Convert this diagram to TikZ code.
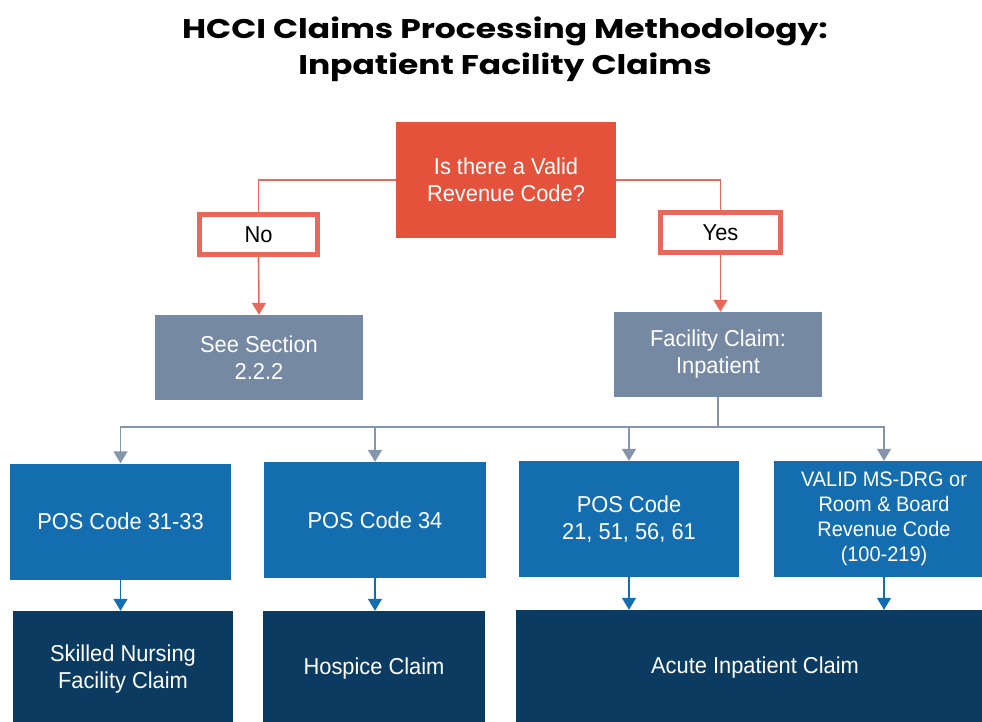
\documentclass[tikz,border=0pt]{standalone}
\usepackage{fontspec}
\setmainfont{Liberation Sans}[FakeStretch=0.95]
\newfontfamily\titlefont{Poppins}[FakeStretch=1.22]
\usetikzlibrary{arrows.meta}
\definecolor{qred}{HTML}{E4523B}
\definecolor{lred}{HTML}{E8695C}
\definecolor{qgray}{HTML}{7689A2}
\definecolor{lgray}{HTML}{8595AB}
\definecolor{qblue}{HTML}{146DAE}
\definecolor{qdark}{HTML}{0B3B60}
\tikzset{
  box/.style={rectangle, inner sep=2pt, align=center, font=\fontsize{23}{27}\selectfont, text=white},
  qbox/.style={box, fill=qred, minimum width=220pt, minimum height=116pt},
  ansbox/.style={box, fill=white, draw=lred, line width=5pt, text=black, minimum width=118pt, minimum height=40pt},
  graybox/.style={box, fill=qgray, minimum width=208pt, minimum height=85pt},
  bluebox/.style={box, fill=qblue, minimum height=116pt},
  darkbox/.style={box, fill=qdark, minimum height=116pt},
  tip/.style={-{Triangle[width=14pt,length=12pt]}},
  redline/.style={draw=lred, line width=1.6pt},
  redarrow/.style={redline, tip},
  grayline/.style={draw=lgray, line width=1.6pt},
  grayarrow/.style={grayline, tip},
  bluearrow/.style={draw=qblue, line width=1.6pt, tip},
}
\begin{document}
\begin{tikzpicture}[x=1pt,y=-1pt]
\useasboundingbox (0,0) rectangle (982,721);
\clip (0,0) rectangle (982,721);
\fill[white] (0,0) rectangle (982,721);

\node[font=\titlefont\bfseries\fontsize{27}{36}\selectfont, align=center] (title) at (505,49)
  {HCCI Claims Processing Methodology:\\Inpatient Facility Claims};

\node[qbox] (q) at (506,180) {Is there a Valid\\Revenue Code?};
\node[ansbox] (no) at (258.5,234.5) {No};
\node[ansbox, minimum width=120pt] (yes) at (720.5,232.5) {Yes};
\node[graybox] (see) at (259,357.5) {See Section\\2.2.2};
\node[graybox] (fac) at (718,354.5) {Facility Claim:\\Inpatient};

\node[bluebox, minimum width=221pt] (b1) at (120.5,521.5) {POS Code 31-33};
\node[bluebox, minimum width=222pt] (b2) at (375,520) {POS Code 34};
\node[bluebox, minimum width=220pt] (b3) at (629,519) {POS Code\\21, 51, 56, 61};
\node[bluebox, minimum width=220pt, font=\fontsize{21}{25}\selectfont] (b4) at (884,519) {VALID MS-DRG or\\Room \& Board\\Revenue Code\\(100-219)};

\node[darkbox, minimum width=220pt] (d1) at (123,669) {Skilled Nursing\\Facility Claim};
\node[darkbox, minimum width=222pt] (d2) at (374,669) {Hospice Claim};
\node[darkbox, minimum width=478pt] (d3) at (755,668) {Acute Inpatient Claim};

% question to answers
\draw[redline] (q.west) -| (no.north);
\draw[redline] (q.east) -| (yes.north);
\draw[redarrow] (no.south) -- (see.north);
\draw[redarrow] (yes.south) -- (yes.south |- fac.north);

% facility claim bus
\coordinate (bus) at (718,427);
\draw[grayline] (fac.south) -- (bus);
\draw[grayarrow] (bus) -| (b1.north);
\draw[grayarrow] (bus) -| (b2.north);
\draw[grayarrow] (bus) -| (b3.north);
\draw[grayarrow] (bus) -| (b4.north);

% blue to dark
\draw[bluearrow] (b1.south) -- (b1.south |- d1.north);
\draw[bluearrow] (b2.south) -- (b2.south |- d2.north);
\draw[bluearrow] (b3.south) -- (b3.south |- d3.north);
\draw[bluearrow] (b4.south) -- (b4.south |- d3.north);
\end{tikzpicture}
\end{document}
